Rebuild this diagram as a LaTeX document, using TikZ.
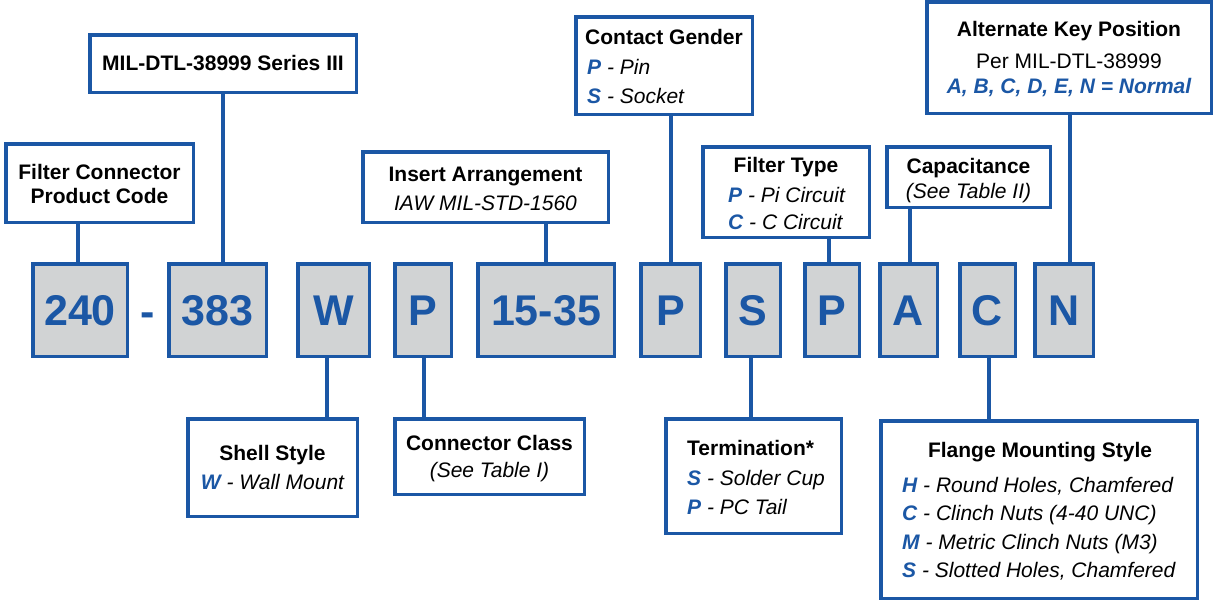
\documentclass[tikz,border=0pt]{standalone}
\usepackage{fontspec}
\setmainfont{Liberation Sans}
\definecolor{cblue}{RGB}{27,87,165}
\definecolor{cgray}{RGB}{209,211,212}
\begin{document}
\begin{tikzpicture}[x=1pt,y=-1pt,
  box/.style={draw=cblue, line width=3.5pt, fill=white, inner sep=0pt},
  codebox/.style={draw=cblue, line width=3.5pt, fill=cgray, inner sep=0pt, minimum height=92.5pt,
     font=\fontsize{43}{50}\selectfont\bfseries, text=cblue, text height=31pt, text depth=0pt},
  conn/.style={draw=cblue, line width=3.5pt},
  ttl/.style={font=\fontsize{21}{25}\selectfont\bfseries, anchor=base, inner sep=0pt},
  sub/.style={font=\fontsize{21}{25}\selectfont\itshape, anchor=base, inner sep=0pt},
  subl/.style={sub, anchor=base west},
  reg/.style={font=\fontsize{21}{25}\selectfont, anchor=base, inner sep=0pt}]
\useasboundingbox (0,0) rectangle (1217,603);
\newcommand{\bl}[1]{\textcolor{cblue}{\bfseries #1}}

% code boxes
\node[codebox, minimum width=94.5pt]  (c240)  at (80,310)    {240};
\node[codebox, minimum width=97.5pt]  (c383)  at (217.5,310) {383};
\node[codebox, minimum width=71.5pt]  (cW)    at (333.5,310) {W};
\node[codebox, minimum width=56.5pt]  (cPa)   at (423,310)   {P};
\node[codebox, minimum width=136.5pt] (c1535) at (546,310)   {15-35};
\node[codebox, minimum width=59.5pt]  (cPb)   at (670.5,310) {P};
\node[codebox, minimum width=54.5pt]  (cS)    at (753,310)   {S};
\node[codebox, minimum width=54.5pt]  (cPc)   at (832,310)   {P};
\node[codebox, minimum width=57.5pt]  (cA)    at (908.5,310) {A};
\node[codebox, minimum width=55.5pt]  (cC)    at (987.5,310) {C};
\node[codebox, minimum width=58.5pt]  (cN)    at (1064,310)  {N};
\node[font=\fontsize{43}{50}\selectfont\bfseries, text=cblue, anchor=base, inner sep=0pt] (dash) at (148,326) {-};

% description boxes
\node[box, minimum width=187.5pt, minimum height=78.5pt] (filt) at (99.5,183) {};
\node[box, minimum width=266.5pt, minimum height=57.5pt] (mil) at (223,63.5) {};
\node[box, minimum width=245.5pt, minimum height=70.5pt] (ins) at (485.5,187) {};
\node[box, minimum width=176.5pt, minimum height=97.5pt] (cg) at (664,65.5) {};
\node[box, minimum width=166.5pt, minimum height=90.5pt] (ft) at (786,192) {};
\node[box, minimum width=163.5pt, minimum height=60.5pt] (cap) at (968.5,177) {};
\node[box, minimum width=284.5pt, minimum height=111.5pt] (akp) at (1069,57.5) {};
\node[box, minimum width=169.5pt, minimum height=97.5pt] (shell) at (272.5,467.5) {};
\node[box, minimum width=189.5pt, minimum height=75.5pt] (cc) at (489.5,456.5) {};
\node[box, minimum width=175.5pt, minimum height=114.5pt] (term) at (753.5,476) {};
\node[box, minimum width=316.5pt, minimum height=177.5pt] (flange) at (1039,509.5) {};

% connector x positions
\coordinate (xa) at (78,0);
\coordinate (xb) at (223,0);
\coordinate (xc) at (546,0);
\coordinate (xd) at (671,0);
\coordinate (xe) at (829,0);
\coordinate (xf) at (910,0);
\coordinate (xg) at (1070,0);
\coordinate (xh) at (327,0);
\coordinate (xi) at (424,0);
\coordinate (xj) at (751,0);
\coordinate (xk) at (989,0);

\draw[conn] (filt.south -| xa) -- (c240.north -| xa);
\draw[conn] (mil.south -| xb) -- (c383.north -| xb);
\draw[conn] (ins.south -| xc) -- (c1535.north -| xc);
\draw[conn] (cg.south -| xd) -- (cPb.north -| xd);
\draw[conn] (ft.south -| xe) -- (cPc.north -| xe);
\draw[conn] (cap.south -| xf) -- (cA.north -| xf);
\draw[conn] (akp.south -| xg) -- (cN.north -| xg);
\draw[conn] (cW.south -| xh) -- (shell.north -| xh);
\draw[conn] (cPa.south -| xi) -- (cc.north -| xi);
\draw[conn] (cS.south -| xj) -- (term.north -| xj);
\draw[conn] (cC.south -| xk) -- (flange.north -| xk);

% texts
\node[ttl] (t1a) at (99.5,179.5) {Filter Connector};
\node[ttl] (t1b) at (99.5,203.5) {Product Code};
\node[ttl] (t2a) at (223,70.5) {MIL-DTL-38999 Series III};
\node[ttl] (t3a) at (485.5,181.5) {Insert Arrangement};
\node[sub] (t3b) at (485.5,210.5) {IAW MIL-STD-1560};
\node[ttl] (t4a) at (664,44.5) {Contact Gender};
\node[subl] (t4b) at (587,74.5) {\bl{P} - Pin};
\node[subl] (t4c) at (587,103.5) {\bl{S} - Socket};
\node[ttl] (t5a) at (786,172.5) {Filter Type};
\node[subl] (t5b) at (728,202.5) {\bl{P} - Pi Circuit};
\node[subl] (t5c) at (728,229) {\bl{C} - C Circuit};
\node[ttl] (t6a) at (968.5,173.5) {Capacitance};
\node[sub] (t6b) at (968.5,198.5) {(See Table II)};
\node[ttl] (t7a) at (1069,36.5) {Alternate Key Position};
\node[reg] (t7b) at (1069,68) {Per MIL-DTL-38999};
\node[sub] (t7c) at (1069,93.5) {\bl{A, B, C, D, E, N = Normal}};
\node[ttl] (t8a) at (272.5,460.5) {Shell Style};
\node[sub] (t8b) at (272.5,489.5) {\bl{W} - Wall Mount};
\node[ttl] (t9a) at (489.5,450.5) {Connector Class};
\node[sub] (t9b) at (489.5,477) {(See Table I)};
\node[ttl, anchor=base west] (t10a) at (687,455.5) {Termination*};
\node[subl] (t10b) at (687,485.5) {\bl{S} - Solder Cup};
\node[subl] (t10c) at (687,514.5) {\bl{P} - PC Tail};
\node[ttl] (t11a) at (1040,457.5) {Flange Mounting Style};
\node[subl] (t11b) at (902,492.5) {\bl{H} - Round Holes, Chamfered};
\node[subl] (t11c) at (902,520.5) {\bl{C} - Clinch Nuts (4-40 UNC)};
\node[subl] (t11d) at (902,549.5) {\bl{M} - Metric Clinch Nuts (M3)};
\node[subl] (t11e) at (902,577.5) {\bl{S} - Slotted Holes, Chamfered};
\end{tikzpicture}
\end{document}
